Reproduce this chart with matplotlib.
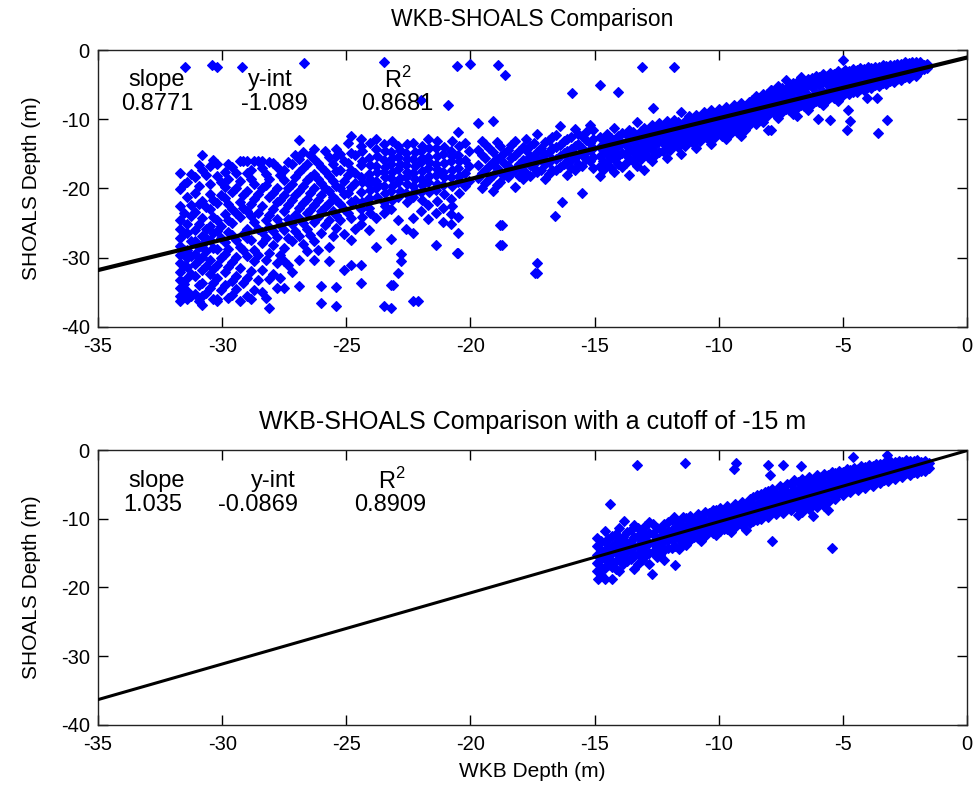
import matplotlib
matplotlib.use('Agg')
import matplotlib.pyplot as plt

plt.rcParams['font.family'] = ['Liberation Sans', 'DejaVu Sans']
plt.rcParams['mathtext.fontset'] = 'custom'
plt.rcParams['mathtext.rm'] = 'Liberation Sans'
plt.rcParams['axes.unicode_minus'] = False

# ---- top panel: all data, columns of (WKB depth, [SHOALS depths]) ----
top_deep = [
    (-31.7, [-17.7, -20.1, -22.5, -24.6, -25.8, -27.1, -28.3, -29.6, -30.8, -32.0, -33.2, -34.4, -35.6, -36.3]),
    (-31.4, [-19.0, -21.3, -25.2, -26.5, -28.9, -30.1, -31.4, -33.0, -34.8, -36.0]),
    (-31.1, [-18.3, -20.6, -23.4, -26.0, -27.6, -29.4, -30.9, -32.6, -35.2]),
    (-30.8, [-15.2, -17.4, -21.8, -24.2, -26.8, -28.1, -29.9, -31.8, -33.7, -35.5, -36.8]),
    (-30.5, [-16.8, -19.3, -20.8, -23.0, -25.4, -27.4, -30.4, -32.3, -34.4]),
    (-30.2, [-16.4, -18.2, -22.1, -24.6, -26.2, -28.8, -31.1, -33.0, -35.9, -36.3]),
    (-29.9, [-17.6, -19.8, -21.4, -23.7, -27.8, -29.5, -32.0, -34.0]),
    (-29.6, [-16.9, -20.5, -22.9, -25.0, -26.7, -30.6, -33.4, -35.4]),
    (-29.3, [-16.0, -18.9, -21.9, -24.1, -28.4, -31.5, -36.3]),
    (-29.0, [-16.1, -17.8, -20.3, -23.3, -25.9, -27.2, -29.8, -33.0, -35.6]),
    (-28.7, [-16.0, -19.4, -21.5, -24.8, -28.9, -30.5, -34.6]),
    (-28.4, [-16.1, -17.1, -20.0, -22.6, -26.3, -27.9, -31.8, -34.9]),
    (-28.1, [-16.2, -18.6, -21.2, -23.8, -25.5, -29.3, -33.1, -37.3]),
    (-27.8, [-16.9, -19.9, -22.0, -24.4, -27.0, -30.8, -34.4]),
    (-27.5, [-17.4, -18.8, -20.9, -23.2, -26.0, -28.6, -30.5, -34.4]),
    (-27.2, [-16.5, -19.3, -21.7, -25.1, -27.6, -32.1]),
    (-26.9, [-13.0, -15.8, -17.6, -20.4, -22.8, -24.3, -26.8, -30.3, -34.1]),
    (-26.6, [-16.5, -18.8, -21.5, -23.6, -25.9, -29.0]),
    (-26.3, [-14.3, -15.8, -17.9, -19.9, -22.4, -24.9, -27.6, -30.3]),
    (-26.0, [-16.9, -19.2, -21.0, -23.3, -26.5, -34.1, -36.6]),
    (-25.7, [-15.5, -18.2, -20.3, -22.1, -24.5, -28.4, -30.5]),
    (-25.4, [-14.3, -15.3, -17.5, -19.6, -21.7, -23.9, -25.7, -34.2, -37.0]),
    (-25.1, [-16.0, -18.9, -20.8, -22.9, -26.6, -31.8]),
    (-24.8, [-12.4, -14.9, -17.3, -19.8, -21.9, -24.3, -27.5, -31.0]),
    (-24.4, [-12.9, -13.9, -16.6, -18.4, -20.5, -23.0, -25.2, -31.0, -33.6]),
    (-24.1, [-15.6, -17.9, -19.4, -21.4, -22.8, -26.0]),
    (-23.8, [-12.9, -14.3, -16.8, -18.9, -20.0, -24.2, -28.5]),
    (-23.5, [-13.6, -15.9, -17.6, -19.7, -21.9, -23.5, -37.0]),
    (-23.2, [-14.7, -16.4, -18.5, -20.4, -23.0, -27.3, -33.9, -37.2]),
    (-22.9, [-13.8, -15.5, -17.2, -19.1, -21.3, -24.6, -32.2]),
    (-22.6, [-14.9, -16.6, -18.3, -20.6, -25.8]),
    (-22.3, [-13.5, -15.8, -17.7, -19.6, -21.2, -24.2, -26.4, -36.3]),
    (-22.0, [-14.6, -16.2, -18.6, -20.5, -23.3]),
    (-21.7, [-12.9, -15.4, -17.1, -19.0, -22.4, -24.4]),
    (-21.4, [-14.1, -16.5, -18.1, -20.2, -23.6, -28.1]),
    (-21.1, [-15.0, -17.6, -19.5, -22.8, -24.9]),
    (-20.8, [-14.6, -16.0, -18.4, -21.5, -23.7, -25.2]),
    (-20.5, [-11.9, -15.1, -17.0, -19.1, -24.1, -26.4, -29.3]),
]

top_deep_b = [
    (-31.55, [-19.4, -23.6, -26.4, -28.9, -31.2, -33.8, -35.0]),
    (-31.25, [-17.9, -22.4, -24.0, -27.6, -29.8, -32.3, -35.6]),
    (-30.95, [-16.6, -19.7, -22.2, -25.1, -28.5, -30.3, -33.9, -36.3]),
    (-30.65, [-18.1, -22.7, -25.8, -27.1, -29.0, -31.2, -35.1]),
    (-30.35, [-15.9, -21.7, -24.1, -26.4, -28.6, -31.7, -33.6, -36.0]),
    (-30.05, [-19.0, -20.9, -25.4, -27.2, -30.1, -34.7]),
    (-29.75, [-16.4, -18.6, -22.3, -24.5, -26.3, -28.7, -31.3, -35.8]),
    (-29.45, [-17.7, -19.9, -23.6, -27.5, -29.9, -32.6, -34.5]),
    (-29.15, [-16.1, -21.0, -22.8, -26.6, -28.9, -33.7]),
    (-28.85, [-17.3, -18.7, -22.2, -24.0, -27.4, -31.9, -36.0]),
    (-28.55, [-16.0, -20.8, -23.5, -25.8, -29.6, -33.2]),
    (-28.25, [-17.9, -19.5, -24.6, -27.1, -30.4, -35.8]),
    (-27.95, [-16.3, -20.6, -22.9, -26.2, -28.1, -32.4]),
    (-27.65, [-18.1, -21.6, -25.3, -29.6, -33.0]),
    (-27.35, [-16.2, -19.9, -22.4, -24.4, -27.2, -31.0]),
    (-27.05, [-15.1, -18.3, -21.0, -23.9, -26.1]),
    (-26.75, [-14.8, -17.0, -19.6, -22.1, -25.0, -28.0]),
    (-26.45, [-15.2, -18.3, -20.7, -23.1, -26.7]),
    (-26.15, [-16.3, -18.6, -21.7, -24.1, -28.9]),
    (-25.85, [-14.6, -17.5, -20.0, -22.7, -25.3]),
    (-25.55, [-16.4, -18.9, -21.2, -23.2, -26.9]),
    (-25.25, [-15.0, -17.4, -19.9, -22.2, -24.6]),
    (-24.95, [-13.5, -16.3, -18.0, -20.6, -23.6]),
    (-24.65, [-15.2, -17.7, -19.2, -21.6, -25.9]),
    (-24.35, [-14.6, -16.0, -19.1, -22.0, -24.1]),
    (-24.05, [-13.4, -16.6, -18.6, -20.2, -23.5]),
    (-23.75, [-15.3, -17.6, -19.3, -21.3]),
    (-23.45, [-14.6, -16.9, -18.4, -20.7, -22.6]),
    (-23.15, [-13.2, -15.6, -17.6, -19.6, -21.7]),
    (-22.85, [-14.5, -16.4, -18.5, -20.3]),
    (-22.55, [-13.6, -15.7, -17.6, -19.4, -22.0]),
    (-22.25, [-14.7, -16.8, -18.6, -20.4]),
    (-21.95, [-13.9, -15.6, -17.5, -19.5, -21.6]),
    (-21.65, [-14.2, -16.2, -18.2, -20.5]),
    (-21.35, [-13.2, -15.3, -17.2, -19.3, -21.8]),
    (-21.05, [-14.0, -16.3, -18.4, -20.8]),
    (-20.75, [-13.1, -15.3, -17.3, -19.7, -22.6]),
    (-20.45, [-13.8, -16.0, -18.2, -20.6]),
]

top_mid = [
    (-20.2, [-13.4, -15.9, -17.8, -19.7]),
    (-20.05, [-14.6, -16.8, -18.9]),
    (-19.7, [-10.5, -14.4, -16.6, -18.5]),
    (-19.55, [-13.2, -15.1, -17.7, -19.9]),
    (-19.4, [-13.6, -15.6, -17.3, -19.2]),
    (-19.25, [-14.2, -16.7, -18.6]),
    (-19.1, [-10.2, -14.8, -16.2, -18.0, -20.3]),
    (-18.95, [-13.3, -15.8, -17.0, -19.5]),
    (-18.8, [-13.9, -15.4, -17.6, -19.0, -25.3, -28.1]),
    (-18.65, [-14.9, -16.3, -18.0]),
    (-18.5, [-14.4, -16.8, -18.3]),
    (-18.35, [-13.7, -15.6, -17.7]),
    (-18.2, [-13.2, -15.1, -17.2, -19.8]),
    (-18.05, [-14.6, -16.5, -18.2]),
    (-17.9, [-14.0, -15.9, -17.4, -18.7]),
    (-17.75, [-12.9, -14.4, -16.2, -17.8]),
    (-17.6, [-13.8, -15.3, -16.6, -18.2]),
    (-17.45, [-13.5, -15.5, -17.1]),
    (-17.3, [-12.1, -14.7, -16.0, -17.6, -30.7, -32.2]),
    (-17.15, [-14.1, -15.7, -17.3]),
    (-17.0, [-13.3, -15.0, -16.5, -18.6]),
    (-16.85, [-13.0, -14.8, -16.2, -17.9]),
    (-16.7, [-12.6, -14.2, -15.7, -17.3]),
    (-16.55, [-12.3, -14.0, -15.8, -17.4]),
    (-16.4, [-11.0, -13.7, -15.3, -16.9]),
    (-16.25, [-13.2, -14.9, -16.5]),
    (-16.1, [-12.9, -14.6, -16.1, -18.0]),
    (-15.95, [-12.6, -14.3, -15.9, -17.0]),
    (-15.8, [-11.4, -13.9, -15.5, -17.3]),
    (-15.65, [-12.1, -13.6, -15.1, -16.4]),
    (-15.5, [-12.4, -14.2, -15.0, -16.7]),
    (-15.35, [-11.8, -13.0, -14.7, -15.8]),
    (-15.2, [-10.8, -13.4, -14.4, -16.0]),
    (-15.05, [-11.5, -12.9, -14.1, -15.5, -17.1]),
]

top_band = [
    (-14.8, [-12.6, -14.0, -15.3, -16.8, -18.2]),
    (-14.5, [-12.1, -13.6, -15.0, -16.4]),
    (-14.2, [-11.3, -13.0, -14.6, -15.8, -17.6]),
    (-13.9, [-12.0, -13.4, -14.9, -16.9]),
    (-13.6, [-11.6, -12.8, -14.2, -15.6, -18.0]),
    (-13.3, [-10.4, -12.5, -13.9, -15.2, -16.7]),
    (-13.0, [-11.2, -12.3, -13.6, -14.9, -17.3]),
    (-12.7, [-10.9, -12.0, -13.4, -14.5, -16.0]),
    (-12.4, [-10.6, -11.8, -13.1, -14.8]),
    (-12.1, [-10.2, -11.5, -12.8, -14.1, -15.6]),
    (-11.8, [-10.1, -11.3, -12.4, -13.7]),
    (-11.5, [-9.0, -10.9, -12.2, -13.5, -15.0]),
    (-11.2, [-9.6, -10.7, -11.9, -13.2]),
    (-10.9, [-9.4, -10.5, -11.6, -12.9, -14.2]),
    (-10.6, [-8.9, -10.2, -11.4, -12.6]),
    (-10.3, [-8.7, -9.9, -11.1, -12.3, -13.6]),
    (-10.0, [-8.5, -9.7, -10.8, -12.0]),
    (-9.7, [-8.2, -9.4, -10.6, -11.8, -12.9]),
    (-9.4, [-7.9, -9.1, -10.3, -11.5]),
    (-9.1, [-7.7, -8.9, -10.0, -11.2, -12.4]),
    (-8.8, [-7.5, -8.6, -9.8, -10.9]),
    (-8.5, [-6.6, -7.9, -8.4, -9.5, -10.7]),
    (-8.2, [-6.3, -7.6, -8.1, -9.3, -10.4]),
    (-7.9, [-5.8, -6.9, -7.8, -9.0, -11.5]),
    (-7.6, [-5.2, -6.5, -7.6, -8.7, -9.8]),
    (-7.3, [-4.4, -5.9, -7.3, -8.5]),
    (-7.0, [-4.8, -5.6, -7.0, -8.2, -9.3]),
    (-6.7, [-3.9, -5.3, -6.8, -7.9]),
    (-6.4, [-4.2, -5.0, -6.5, -7.6, -8.6]),
    (-6.1, [-3.7, -4.8, -6.2, -7.3]),
    (-5.8, [-3.5, -4.6, -6.0, -7.0, -8.0]),
    (-5.5, [-3.3, -4.4, -5.7, -6.8]),
    (-5.2, [-3.1, -4.1, -5.5, -6.5, -7.4]),
    (-4.9, [-2.9, -3.9, -5.2, -6.2]),
    (-4.6, [-2.7, -3.7, -4.9, -6.0]),
    (-4.3, [-2.6, -3.5, -4.7, -5.7]),
    (-4.0, [-2.5, -3.3, -4.4, -5.4]),
    (-3.7, [-2.4, -3.1, -4.2, -5.1]),
    (-3.4, [-2.2, -2.9, -3.9, -4.8]),
    (-3.1, [-2.1, -2.7, -3.7, -4.5]),
    (-2.8, [-2.0, -2.6, -3.4, -4.2]),
    (-2.5, [-1.8, -2.4, -3.2, -3.9]),
    (-2.2, [-1.7, -2.3, -3.0, -3.6]),
    (-1.9, [-1.8, -2.5, -3.1]),
    (-1.6, [-2.0, -2.6]),
]

top_band_b = [
    (-14.65, [-13.0, -14.5, -16.0, -17.3]),
    (-14.35, [-12.7, -14.2, -15.6, -17.0]),
    (-14.05, [-12.4, -13.9, -15.3, -16.5]),
    (-13.75, [-12.2, -13.7, -15.0, -16.3]),
    (-13.45, [-11.9, -13.2, -14.6, -16.1]),
    (-13.15, [-11.7, -12.9, -14.3, -15.8]),
    (-12.85, [-11.5, -12.7, -14.0, -15.4]),
    (-12.55, [-11.2, -12.4, -13.7, -15.2]),
    (-12.25, [-11.0, -12.2, -13.4, -14.6]),
    (-11.95, [-10.7, -11.9, -13.1, -14.4]),
    (-11.65, [-10.4, -11.6, -12.8, -14.0]),
    (-11.35, [-10.2, -11.3, -12.6, -13.8]),
    (-11.05, [-9.9, -11.1, -12.3, -13.5]),
    (-10.75, [-9.7, -10.8, -12.0, -13.2]),
    (-10.45, [-9.4, -10.6, -11.8, -12.9]),
    (-10.15, [-9.2, -10.3, -11.5, -12.6]),
    (-9.85, [-8.9, -10.1, -11.2, -12.4]),
    (-9.55, [-8.7, -9.8, -11.0, -12.1]),
    (-9.25, [-8.4, -9.6, -10.7, -11.8]),
    (-8.95, [-8.1, -9.3, -10.4, -11.5]),
    (-8.65, [-7.2, -8.2, -9.1, -10.2]),
    (-8.35, [-6.9, -7.8, -8.8, -9.9]),
    (-8.05, [-6.4, -7.3, -8.5, -9.6]),
    (-7.75, [-5.9, -7.0, -8.2, -9.3]),
    (-7.45, [-5.5, -6.7, -7.9, -9.0]),
    (-7.15, [-5.2, -6.3, -7.6, -8.7]),
    (-6.85, [-4.6, -5.9, -7.3, -8.4]),
    (-6.55, [-4.5, -5.7, -7.1, -8.1]),
    (-6.25, [-4.1, -5.4, -6.8, -7.8]),
    (-5.95, [-3.9, -5.1, -6.5, -7.5]),
    (-5.65, [-3.7, -4.9, -6.3, -7.2]),
    (-5.35, [-3.5, -4.7, -6.0, -6.9]),
    (-5.05, [-3.3, -4.5, -5.7, -6.6]),
    (-4.75, [-3.1, -4.2, -5.4, -6.4]),
    (-4.45, [-2.9, -4.0, -5.1, -6.1]),
    (-4.15, [-2.8, -3.8, -4.9, -5.8]),
    (-3.85, [-2.6, -3.6, -4.6, -5.5]),
    (-3.55, [-2.5, -3.4, -4.4, -5.2]),
    (-3.25, [-2.3, -3.2, -4.1, -4.9]),
    (-2.95, [-2.2, -3.0, -3.9, -4.6]),
    (-2.65, [-2.0, -2.8, -3.6, -4.3]),
    (-2.35, [-1.9, -2.6, -3.4, -4.0]),
    (-2.05, [-1.8, -2.4, -3.2, -3.7]),
    (-1.75, [-2.1, -2.8]),
]

top_outliers = [
    (-31.5, -2.4), (-30.4, -2.2), (-30.2, -2.4), (-29.2, -2.4), (-26.7, -1.9),
    (-23.5, -1.7), (-22.0, -7.2), (-20.55, -2.3), (-20.0, -2.0), (-18.9, -2.2),
    (-18.6, -3.6), (-20.9, -7.9), (-15.9, -6.2), (-14.8, -5.0), (-14.06, -6.0),
    (-13.1, -2.4), (-12.65, -8.4), (-11.8, -2.5), (-5.0, -1.4), (-7.9, -5.8),
    (-6.86, -9.6), (-5.99, -9.9), (-5.52, -10.1), (-4.78, -8.7), (-4.71, -10.3),
    (-4.85, -11.5), (-3.57, -12.0), (-3.24, -10.1), (-4.04, -7.0), (-3.64, -6.9),
    (-8.0, -11.5), (-23.1, -33.9), (-22.1, -36.3), (-22.8, -29.5), (-22.8, -30.5),
    (-20.55, -29.3), (-17.4, -32.2), (-16.6, -24.0), (-16.3, -21.9), (-15.5, -20.7),
    (-18.74, -25.3), (-18.74, -28.1),
]

# ---- bottom panel: cutoff at -15 m ----
bot_band = [
    (-14.9, [-12.8, -14.0, -15.3, -16.5, -17.6]),
    (-14.6, [-11.8, -13.4, -14.6, -15.9, -17.2, -18.7]),
    (-14.3, [-12.5, -13.9, -15.0, -16.3, -17.0]),
    (-14.0, [-11.3, -13.1, -14.5, -15.8, -17.6]),
    (-13.7, [-12.0, -13.5, -14.9, -16.2]),
    (-13.4, [-10.9, -12.7, -14.0, -15.4, -17.3]),
    (-13.1, [-11.8, -13.2, -14.6, -16.0]),
    (-12.8, [-10.5, -12.1, -13.5, -15.0, -16.6]),
    (-12.5, [-11.3, -12.8, -14.2, -15.5]),
    (-12.2, [-10.7, -12.0, -13.3, -14.6, -16.0]),
    (-11.9, [-10.2, -11.6, -12.9, -14.3]),
    (-11.6, [-10.6, -11.9, -13.0, -14.4]),
    (-11.3, [-9.9, -11.2, -12.5, -13.8]),
    (-11.0, [-10.3, -11.5, -12.7]),
    (-10.7, [-9.6, -10.9, -12.1, -13.2]),
    (-10.4, [-9.2, -10.4, -11.7]),
    (-10.1, [-8.8, -10.1, -11.3, -12.4]),
    (-9.8, [-9.1, -10.3, -11.5]),
    (-9.5, [-8.6, -9.8, -11.0, -12.0]),
    (-9.2, [-8.3, -9.5, -10.6]),
    (-8.9, [-7.9, -9.1, -10.3, -11.6]),
    (-8.6, [-6.8, -8.0, -9.2, -10.4]),
    (-8.3, [-6.4, -7.6, -8.8, -10.0]),
    (-8.0, [-5.9, -7.3, -8.5, -9.7]),
    (-7.7, [-6.2, -7.2, -8.2, -9.3]),
    (-7.4, [-5.5, -6.7, -7.9, -9.1]),
    (-7.1, [-5.0, -6.4, -7.6, -8.7]),
    (-6.8, [-4.6, -6.0, -7.3, -8.5, -9.5]),
    (-6.5, [-4.9, -5.8, -7.0, -8.2]),
    (-6.2, [-4.3, -5.5, -6.7, -7.9, -9.6]),
    (-5.9, [-3.9, -5.2, -6.4, -7.6]),
    (-5.6, [-3.6, -4.9, -6.1, -7.5, -8.7]),
    (-5.3, [-3.4, -4.6, -5.8, -7.1]),
    (-5.0, [-3.2, -4.3, -5.5, -6.6]),
    (-4.7, [-2.9, -4.0, -5.2, -6.1]),
    (-4.4, [-2.7, -3.8, -4.9, -5.8]),
    (-4.1, [-2.5, -3.5, -4.6, -5.6]),
    (-3.8, [-2.3, -3.3, -4.3, -5.2]),
    (-3.5, [-2.1, -3.0, -4.0, -4.8]),
    (-3.2, [-1.9, -2.8, -3.7, -4.5]),
    (-2.9, [-1.8, -2.6, -3.4, -4.2]),
    (-2.6, [-1.7, -2.4, -3.2, -3.9]),
    (-2.3, [-1.6, -2.3, -3.0, -3.6]),
    (-2.0, [-1.5, -2.2, -2.9, -3.4]),
    (-1.7, [-1.6, -2.3, -3.0]),
]

bot_band_b = [
    (-14.75, [-13.2, -14.6, -15.9, -17.0, -18.2]),
    (-14.45, [-12.9, -14.3, -15.6, -16.8]),
    (-14.15, [-12.2, -13.6, -14.9, -16.2, -17.3]),
    (-13.85, [-12.6, -13.9, -15.3, -16.6]),
    (-13.55, [-11.7, -13.2, -14.5, -15.8]),
    (-13.25, [-11.4, -12.5, -13.9, -15.2, -16.6]),
    (-12.95, [-11.0, -12.6, -14.0, -15.4]),
    (-12.65, [-10.8, -12.2, -13.6, -14.8]),
    (-12.35, [-11.5, -12.8, -14.0, -15.3]),
    (-12.05, [-10.5, -11.8, -13.1, -14.3]),
    (-11.75, [-10.1, -11.3, -12.6, -13.9]),
    (-11.45, [-9.8, -11.0, -12.3, -13.5]),
    (-11.15, [-9.6, -10.8, -12.0, -13.1]),
    (-10.85, [-9.3, -10.5, -11.7, -12.8]),
    (-10.55, [-9.0, -10.2, -11.4, -12.5]),
    (-10.25, [-8.7, -9.8, -11.0, -12.1]),
    (-9.95, [-8.4, -9.6, -10.8, -11.8]),
    (-9.65, [-8.1, -9.3, -10.5, -11.5]),
    (-9.35, [-7.8, -9.0, -10.2, -11.2]),
    (-9.05, [-7.5, -8.7, -9.8, -10.9]),
    (-8.75, [-7.2, -8.4, -9.5, -10.6]),
    (-8.45, [-6.6, -7.8, -9.0, -10.2]),
    (-8.15, [-6.1, -7.0, -8.2, -9.4]),
    (-7.85, [-5.7, -6.8, -7.9, -9.0]),
    (-7.55, [-5.3, -6.4, -7.6, -8.7]),
    (-7.25, [-4.9, -6.1, -7.3, -8.4]),
    (-6.95, [-4.4, -5.7, -6.9, -8.0]),
    (-6.65, [-4.2, -5.4, -6.6, -7.7, -9.0]),
    (-6.35, [-4.0, -5.1, -6.3, -7.4, -8.6]),
    (-6.05, [-3.7, -4.8, -6.0, -7.1, -8.3]),
    (-5.75, [-3.5, -4.6, -5.7, -6.8, -8.1]),
    (-5.45, [-3.2, -4.4, -5.4, -6.5]),
    (-5.15, [-3.0, -4.1, -5.1, -6.2]),
    (-4.85, [-2.8, -3.8, -4.9, -5.9]),
    (-4.55, [-2.6, -3.6, -4.6, -5.5]),
    (-4.25, [-2.4, -3.4, -4.3, -5.2]),
    (-3.95, [-2.2, -3.1, -4.1, -4.9]),
    (-3.65, [-2.0, -2.9, -3.8, -4.6]),
    (-3.35, [-1.9, -2.7, -3.5, -4.3]),
    (-3.05, [-1.7, -2.5, -3.3, -4.0]),
    (-2.75, [-1.6, -2.3, -3.1, -3.7]),
    (-2.45, [-1.5, -2.2, -2.9, -3.4]),
    (-2.15, [-1.6, -2.1, -2.7, -3.2]),
    (-1.85, [-1.7, -2.4, -3.0]),
    (-1.55, [-1.9, -2.6]),
]

bot_outliers = [
    (-13.3, -2.2), (-11.36, -1.9), (-9.4, -2.7), (-9.3, -1.9), (-8.0, -2.2),
    (-7.94, -3.6), (-14.36, -7.8), (-13.8, -10.4), (-11.8, -9.7), (-11.76, -16.7),
    (-12.7, -18.0), (-14.85, -18.7), (-14.3, -18.7), (-7.85, -13.2), (-7.4, -2.2),
    (-6.67, -2.4), (-4.6, -1.0), (-3.24, -0.7), (-5.42, -14.3),
]

# regression results shown on each panel
top_fit = {'slope': 0.8771, 'yint': -1.089, 'r2': 0.8681}
bot_fit = {'slope': 1.035, 'yint': -0.0869, 'r2': 0.8909}
fit_x = [-35, 0]

# text placement (header x, value x) for slope / y-int / R^2
top_text_x = [(-32.62, -32.62), (-28.07, -27.9), (-22.92, -22.96)]
bot_text_x = [(-32.62, -32.78), (-27.95, -28.56), (-23.16, -23.24)]


def flatten(columns, extra):
    xs, ys = [], []
    for x, col in columns:
        for y in col:
            xs.append(x)
            ys.append(y)
    for x, y in extra:
        xs.append(x)
        ys.append(y)
    return xs, ys


def style_axes(ax):
    ax.set_xlim(-35, 0)
    ax.set_ylim(-40, 0)
    ax.set_xticks(range(-35, 1, 5))
    ax.set_yticks(range(-40, 1, 10))
    ax.tick_params(direction='in', length=7, width=1, top=True, right=True,
                   labelsize=14.5)
    ax.tick_params(axis='x', pad=7)
    ax.tick_params(axis='y', pad=6)
    for s in ax.spines.values():
        s.set_linewidth(1.0)
        s.set_color('#222222')
    ax.set_ylabel('SHOALS Depth (m)', fontsize=15, labelpad=14)


def annotate(ax, fit, xs, ys):
    heads = ['slope', 'y-int', 'R$^2$']
    vals = [f"{fit['slope']}", f"{fit['yint']}", f"{fit['r2']}"]
    for (hx, vx), head, val in zip(xs, heads, vals):
        ax.text(hx, ys[0], head, ha='center', va='center', fontsize=17)
        ax.text(vx, ys[1], val, ha='center', va='center', fontsize=17)


marker_kw = dict(marker='D', color='blue', markersize=4.8, markeredgewidth=0.8,
                 markeredgecolor='blue', linestyle='none', zorder=2)

fig = plt.figure(figsize=(9.76, 8.0), dpi=100)
ax1 = fig.add_axes([0.1004, 0.5913, 0.8904, 0.3462])
ax2 = fig.add_axes([0.1004, 0.0938, 0.8904, 0.3437])

tx, ty = flatten(top_deep + top_deep_b + top_mid + top_band + top_band_b, top_outliers)
ax1.plot(tx, ty, **marker_kw)
ax1.plot(fit_x, [top_fit['slope'] * x + top_fit['yint'] for x in fit_x],
         color='black', linewidth=3.0, zorder=3)
style_axes(ax1)
ax1.set_title('WKB-SHOALS Comparison', fontsize=16.5, pad=17)
annotate(ax1, top_fit, top_text_x, (-4.3, -7.8))

bx, by = flatten(bot_band + bot_band_b, bot_outliers)
ax2.plot(bx, by, **marker_kw)
ax2.plot(fit_x, [bot_fit['slope'] * x + bot_fit['yint'] for x in fit_x],
         color='black', linewidth=2.2, zorder=3)
style_axes(ax2)
ax2.set_title('WKB-SHOALS Comparison with a cutoff of -15 m', fontsize=18, pad=15)
ax2.set_xlabel('WKB Depth (m)', fontsize=15, labelpad=6)
annotate(ax2, bot_fit, bot_text_x, (-4.5, -8.0))

fig.savefig('out.png', dpi=100)
